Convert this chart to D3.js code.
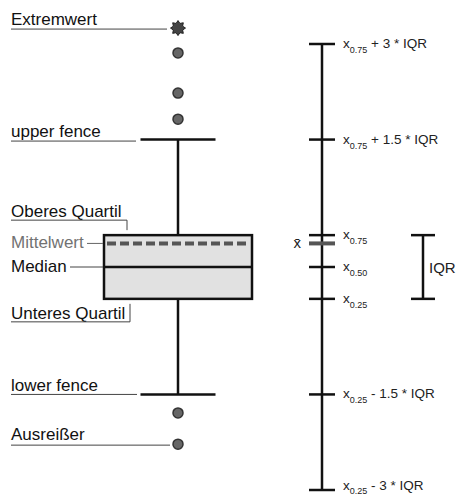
<!DOCTYPE html>
<html>
<head>
<meta charset="utf-8">
<script src="https://cdn.jsdelivr.net/npm/d3@7"></script>
<style>
  body { margin: 0; background: #fff; }
  text { font-family: "Liberation Sans", Arial, sans-serif; }
</style>
</head>
<body>
<div id="chart"></div>
<script>
const width = 456;
const height = 497;

// Kennwerte (Q1, Median, Q3) und Mittelwert
const quartiles = [20, 25, 30];
const meanValue = 28.7;
// Ausreißer und Extremwerte
const outliers = [48.2, 52.3, 58.6, 2.1, -2.8];
const extremes = [62.5];
// Faktoren für Zäune
const fenceFactors = [1.5, 3];

// Beschriftungen rechts: [Basis, Index, Rest]
const axisLabels = [
  ["x", "0.75", " + 3 * IQR"],
  ["x", "0.75", " + 1.5 * IQR"],
  ["x", "0.75", ""],
  ["x", "0.50", ""],
  ["x", "0.25", ""],
  ["x", "0.25", " - 1.5 * IQR"],
  ["x", "0.25", " - 3 * IQR"]
];
const leftLabels = ["Extremwert", "upper fence", "Oberes Quartil", "Mittelwert", "Median", "Unteres Quartil", "lower fence", "Ausreißer"];

const [q1, med, q3] = quartiles;
const iqr = q3 - q1;
const upperFence = q3 + fenceFactors[0] * iqr;
const lowerFence = q1 - fenceFactors[0] * iqr;
const upperExtreme = q3 + fenceFactors[1] * iqr;
const lowerExtreme = q1 - fenceFactors[1] * iqr;
const axisValues = [upperExtreme, upperFence, q3, med, q1, lowerFence, lowerExtreme];

const y = d3.scaleLinear().domain([lowerExtreme, upperExtreme]).range([490, 44]);

const svg = d3.select("#chart").append("svg")
    .attr("width", width)
    .attr("height", height);

// ---------- Boxplot links ----------
const cx = 178, boxL = 104, boxR = 252, capHalf = 37.5;
const box = svg.append("g");

// Whisker
box.append("line").attr("x1", cx).attr("x2", cx)
    .attr("y1", y(q3)).attr("y2", y(upperFence))
    .attr("stroke", "#111").attr("stroke-width", 2.5);
box.append("line").attr("x1", cx).attr("x2", cx)
    .attr("y1", y(q1)).attr("y2", y(lowerFence))
    .attr("stroke", "#111").attr("stroke-width", 2.5);
[upperFence, lowerFence].forEach(v => {
  box.append("line").attr("x1", cx - capHalf).attr("x2", cx + capHalf)
      .attr("y1", y(v)).attr("y2", y(v))
      .attr("stroke", "#111").attr("stroke-width", 2.5);
});

// Box
box.append("rect")
    .attr("x", boxL).attr("y", y(q3))
    .attr("width", boxR - boxL).attr("height", y(q1) - y(q3))
    .attr("fill", "#e1e1e1").attr("stroke", "#111").attr("stroke-width", 2.5);
box.append("line").attr("x1", boxL).attr("x2", boxR)
    .attr("y1", y(med)).attr("y2", y(med))
    .attr("stroke", "#111").attr("stroke-width", 2.5);
box.append("line").attr("x1", boxL + 3).attr("x2", boxR - 2)
    .attr("y1", y(meanValue)).attr("y2", y(meanValue))
    .attr("stroke", "#555").attr("stroke-width", 4)
    .attr("stroke-dasharray", "9,4");

// Ausreißer
box.selectAll("circle.out")
  .data(outliers)
  .join("circle")
    .attr("class", "out")
    .attr("cx", cx).attr("cy", d => y(d))
    .attr("r", 5)
    .attr("fill", "#666").attr("stroke", "#333").attr("stroke-width", 1.5);

// Extremwert (Stern)
const starPts = d3.range(16).map(i => {
  const a = i * Math.PI / 8 - Math.PI / 2;
  const r = i % 2 ? 5 : 7.5;
  return [r * Math.cos(a), r * Math.sin(a)];
});
box.selectAll("path.ext")
  .data(extremes)
  .join("path")
    .attr("class", "ext")
    .attr("transform", d => `translate(${cx},${y(d)})`)
    .attr("d", d3.line()(starPts) + "Z")
    .attr("fill", "#444").attr("stroke", "#222").attr("stroke-width", 1);

// ---------- Beschriftungen links ----------
const lab = svg.append("g").attr("font-size", 17);
const leader = (pts, col) => lab.append("path")
    .attr("d", d3.line()(pts)).attr("fill", "none")
    .attr("stroke", col || "#444").attr("stroke-width", 1);

const yExt = y(extremes[0]);
lab.append("text").attr("x", 11).attr("y", yExt - 3).attr("fill", "#111").text(leftLabels[0]);
leader([[11, yExt + 1], [167, yExt + 1]]);

lab.append("text").attr("x", 11).attr("y", y(upperFence) - 3).attr("fill", "#111").text(leftLabels[1]);
leader([[11, y(upperFence) + 1.5], [136, y(upperFence) + 1.5]]);

lab.append("text").attr("x", 11).attr("y", y(q3) - 18).attr("fill", "#111").text(leftLabels[2]);
leader([[11, y(q3) - 15], [127, y(q3) - 15], [127, y(q3) - 5]]);

lab.append("text").attr("x", 11).attr("y", y(meanValue) + 5).attr("fill", "#727272").text(leftLabels[3]);
leader([[87, y(meanValue)], [103, y(meanValue)]], "#666");

lab.append("text").attr("x", 11).attr("y", y(med) + 5).attr("fill", "#111").text(leftLabels[4]);
leader([[70, y(med)], [103, y(med)]]);

lab.append("text").attr("x", 11).attr("y", y(q1) + 20).attr("fill", "#111").text(leftLabels[5]);
leader([[11, y(q1) + 23], [130, y(q1) + 23], [130, y(q1) + 5]]);

lab.append("text").attr("x", 11).attr("y", y(lowerFence) - 3).attr("fill", "#111").text(leftLabels[6]);
leader([[11, y(lowerFence) + 0], [137, y(lowerFence) + 0]]);

const yOut = y(outliers[outliers.length - 1]);
lab.append("text").attr("x", 11).attr("y", yOut - 4).attr("fill", "#111").text(leftLabels[7]);
leader([[11, yOut + 1], [170, yOut + 1]]);

// ---------- Achse rechts ----------
const ax = 322, tickHalf = 13;
const axis = svg.append("g");
axis.append("line").attr("x1", ax).attr("x2", ax)
    .attr("y1", y(upperExtreme)).attr("y2", y(lowerExtreme))
    .attr("stroke", "#111").attr("stroke-width", 2.5);

axis.selectAll("line.tick")
  .data(axisValues)
  .join("line")
    .attr("class", "tick")
    .attr("x1", ax - tickHalf).attr("x2", ax + tickHalf)
    .attr("y1", d => y(d)).attr("y2", d => y(d))
    .attr("stroke", "#111").attr("stroke-width", 2.5);

axis.append("line")
    .attr("x1", ax - tickHalf).attr("x2", ax + tickHalf)
    .attr("y1", y(meanValue)).attr("y2", y(meanValue))
    .attr("stroke", "#555").attr("stroke-width", 4);
axis.append("text")
    .attr("x", ax - 21).attr("y", y(meanValue) + 5)
    .attr("text-anchor", "end").attr("font-size", 15).attr("fill", "#222")
    .text("x\u0304");

const last = axisLabels.length - 1;
const tl = axis.selectAll("text.lbl")
  .data(axisLabels.map((l, i) => ({ l, v: axisValues[i] })))
  .join("text")
    .attr("class", "lbl")
    .attr("x", ax + 21).attr("y", (d, i) => y(d.v) + (i === last ? 0 : 4))
    .attr("font-size", 13.5).attr("fill", "#222");
tl.append("tspan").text(d => d.l[0]);
tl.append("tspan").attr("dy", (d, i) => i === last ? 3.5 : 5).attr("font-size", 9).text(d => d.l[1]);
tl.append("tspan").attr("dy", (d, i) => i === last ? -3.5 : -5).text(d => d.l[2].replace(/ /g, "\u00a0"));

// IQR-Klammer
const bx = 423;
const iqrG = svg.append("g").attr("stroke", "#111").attr("stroke-width", 2.5);
iqrG.append("line").attr("x1", bx).attr("x2", bx).attr("y1", y(q3)).attr("y2", y(q1));
[q3, q1].forEach(v => iqrG.append("line")
    .attr("x1", bx - 12).attr("x2", bx + 12).attr("y1", y(v)).attr("y2", y(v)));
svg.append("text").attr("x", 429).attr("y", (y(q3) + y(q1)) / 2 + 6)
    .attr("font-size", 15).attr("fill", "#222").text("IQR");
</script>
</body>
</html>
